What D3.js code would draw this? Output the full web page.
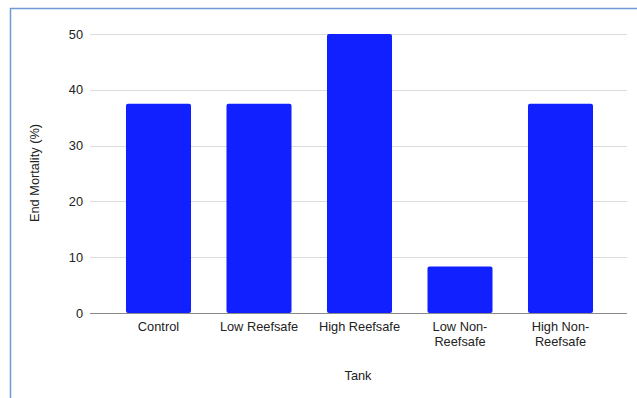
<!DOCTYPE html>
<html><head><meta charset="utf-8">
<script src="https://cdn.jsdelivr.net/npm/d3@7"></script>
<style>body{margin:0;background:#fff}svg{display:block;font-family:"Liberation Sans",Arial,sans-serif}</style>
</head><body>
<svg id="c" width="637" height="398"></svg>
<script>
const categories = [["Control"],["Low Reefsafe"],["High Reefsafe"],["Low Non-","Reefsafe"],["High Non-","Reefsafe"]];
const values = [37.5, 37.5, 50, 8.33, 37.5];
const yTicks = [0, 10, 20, 30, 40, 50];
const yTitle = "End Mortality (%)";
const xTitle = "Tank";

const svg = d3.select("#c");
const fs = 12.8;
// frame
svg.append("line").attr("x1",10.5).attr("x2",10.5).attr("y1",8).attr("y2",398).attr("stroke","#6f9ad3").attr("stroke-width",1.5);
svg.append("line").attr("x1",10).attr("x2",637).attr("y1",8.5).attr("y2",8.5).attr("stroke","#6f9ad3").attr("stroke-width",1.5);

const gridL = 90, gridR = 627;
const y = d3.scaleLinear().domain([0,50]).range([313,34]);
const x = d3.scaleBand().domain(d3.range(categories.length)).range([108.25,610.75]).paddingInner(0.353).paddingOuter(0.1765);

// gridlines
svg.append("g").selectAll("line").data(yTicks.filter(d=>d>0)).join("line")
  .attr("x1",gridL).attr("x2",gridR).attr("y1",d=>Math.round(y(d))+0.5).attr("y2",d=>Math.round(y(d))+0.5)
  .attr("stroke","#dcdcdc").attr("stroke-width",1);

// y labels
svg.append("g").selectAll("text").data(yTicks).join("text")
  .attr("x",83).attr("y",d=>y(d)+4.5).attr("text-anchor","end")
  .attr("font-size",fs).attr("fill","#222").text(d=>d);

// bars
svg.append("g").selectAll("rect").data(values).join("rect")
  .attr("x",(d,i)=>x(i)).attr("width",x.bandwidth())
  .attr("y",d=>y(d)).attr("height",d=>y(0)-y(d))
  .attr("rx",2).attr("fill","#1020ff");

// baseline
svg.append("line").attr("x1",gridL).attr("x2",gridR).attr("y1",313.5).attr("y2",313.5).attr("stroke","#8a8a8a").attr("stroke-width",1.2);

// x labels
const xl = svg.append("g").selectAll("text").data(categories).join("text")
  .attr("text-anchor","middle").attr("font-size",fs).attr("fill","#222")
  .attr("x",(d,i)=>x(i)+x.bandwidth()/2).attr("y",331);
xl.selectAll("tspan").data(d=>d).join("tspan")
  .attr("x",function(){return this.parentNode.getAttribute("x");})
  .attr("dy",(d,i)=>i===0?0:15).text(d=>d);

// axis titles
svg.append("text").attr("transform","translate(39,173) rotate(-90)").attr("text-anchor","middle")
  .attr("font-size",fs).attr("fill","#222").text(yTitle);
svg.append("text").attr("x",358).attr("y",380).attr("text-anchor","middle")
  .attr("font-size",fs).attr("fill","#222").text(xTitle);
</script>
</body></html>
